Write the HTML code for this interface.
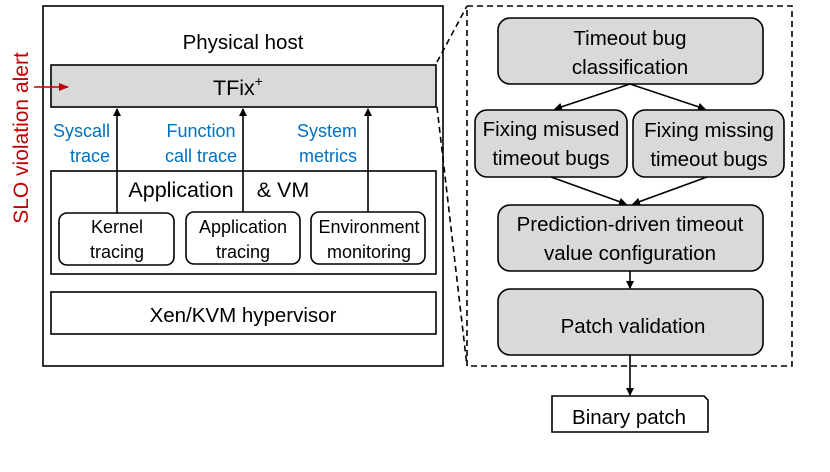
<!DOCTYPE html>
<html><head><meta charset="utf-8"><style>
body{margin:0;background:#fff;width:830px;height:467px;overflow:hidden}
svg text{font-family:"Liberation Sans",sans-serif}
</style></head><body>
<svg width="830" height="467" viewBox="0 0 830 467" xmlns="http://www.w3.org/2000/svg">
<defs>
<marker id="a" markerWidth="8" markerHeight="8" refX="7" refY="4" orient="auto" markerUnits="userSpaceOnUse"><path d="M0,0 L8,4 L0,8 z" fill="#000"/></marker>
<marker id="r" markerWidth="10" markerHeight="8" refX="9" refY="4" orient="auto" markerUnits="userSpaceOnUse"><path d="M0,0 L10,4 L0,8 z" fill="#c00000"/></marker>
</defs>
<g stroke="#000" stroke-width="1.6" fill="none">
<rect x="43" y="6" width="400" height="360" fill="#fff"/>
<rect x="51" y="65" width="385" height="42" fill="#d9d9d9"/>
<rect x="51" y="171" width="385" height="103"/>
<rect x="59" y="213" width="115" height="52" rx="8"/>
<rect x="186" y="212" width="114" height="52" rx="8"/>
<rect x="311" y="212" width="114" height="52" rx="8"/>
<rect x="51" y="292" width="385" height="42"/>
<line x1="117" y1="213" x2="117" y2="109" marker-end="url(#a)"/>
<line x1="243" y1="212" x2="243" y2="109" marker-end="url(#a)"/>
<line x1="368" y1="212" x2="368" y2="109" marker-end="url(#a)"/>
<g stroke-dasharray="6,4">
<rect x="467" y="6" width="325" height="360"/>
<line x1="437" y1="62" x2="467" y2="6"/>
<line x1="437" y1="107" x2="467" y2="366"/>
</g>
<rect x="498" y="18" width="265" height="66" rx="12" fill="#d9d9d9"/>
<rect x="475" y="110" width="152" height="67" rx="12" fill="#d9d9d9"/>
<rect x="633" y="110" width="151" height="67" rx="12" fill="#d9d9d9"/>
<rect x="498" y="205" width="265" height="66" rx="12" fill="#d9d9d9"/>
<rect x="498" y="289" width="265" height="66" rx="12" fill="#d9d9d9"/>
<path d="M552,396 H704 L708,400 V432 H552 Z" fill="#fff"/>
<line x1="630" y1="84" x2="555" y2="109" marker-end="url(#a)"/>
<line x1="630" y1="84" x2="705" y2="109" marker-end="url(#a)"/>
<line x1="551" y1="177" x2="626" y2="204" marker-end="url(#a)"/>
<line x1="707" y1="177" x2="633" y2="204" marker-end="url(#a)"/>
<line x1="630" y1="271" x2="630" y2="288" marker-end="url(#a)"/>
<line x1="630" y1="355" x2="630" y2="395" marker-end="url(#a)"/>
</g>
<line x1="34" y1="87" x2="68" y2="87" stroke="#c00000" stroke-width="1.6" marker-end="url(#r)"/>
<text x="28" y="138" transform="rotate(-90 28 138)" text-anchor="middle" font-size="21" fill="#c00000">SLO violation alert</text>
<g font-size="20.5" text-anchor="middle" fill="#000">
<text x="243" y="49">Physical host</text>
<text x="238" y="95" font-size="21.5">TFix<tspan dy="-9" font-size="14">+</tspan></text>
<text x="181" y="197" font-size="21.5">Application</text><text x="283" y="197" font-size="21.5">&amp; VM</text>
<text x="243" y="322">Xen/KVM hypervisor</text>
</g>
<g font-size="18" text-anchor="middle">
<text x="117" y="233">Kernel</text><text x="117" y="258">tracing</text>
<text x="243" y="233">Application</text><text x="243" y="258">tracing</text>
<text x="369" y="233">Environment</text><text x="369" y="258">monitoring</text>
</g>
<g font-size="18" fill="#0070c0">
<text x="110" y="137" text-anchor="end">Syscall</text><text x="110" y="162" text-anchor="end">trace</text>
<text x="201" y="137" text-anchor="middle">Function</text><text x="201" y="162" text-anchor="middle">call trace</text>
<text x="357" y="137" text-anchor="end">System</text><text x="357" y="162" text-anchor="end">metrics</text>
</g>
<g font-size="20.5" text-anchor="middle">
<text x="630" y="45">Timeout bug</text><text x="630" y="74">classification</text>
<text x="551" y="136">Fixing misused</text><text x="551" y="165">timeout bugs</text>
<text x="709" y="137">Fixing missing</text><text x="709" y="166">timeout bugs</text>
<text x="630" y="231">Prediction-driven timeout</text><text x="630" y="260">value configuration</text>
<text x="633" y="333">Patch validation</text>
<text x="629" y="424">Binary patch</text>
</g>
</svg>
</body></html>
